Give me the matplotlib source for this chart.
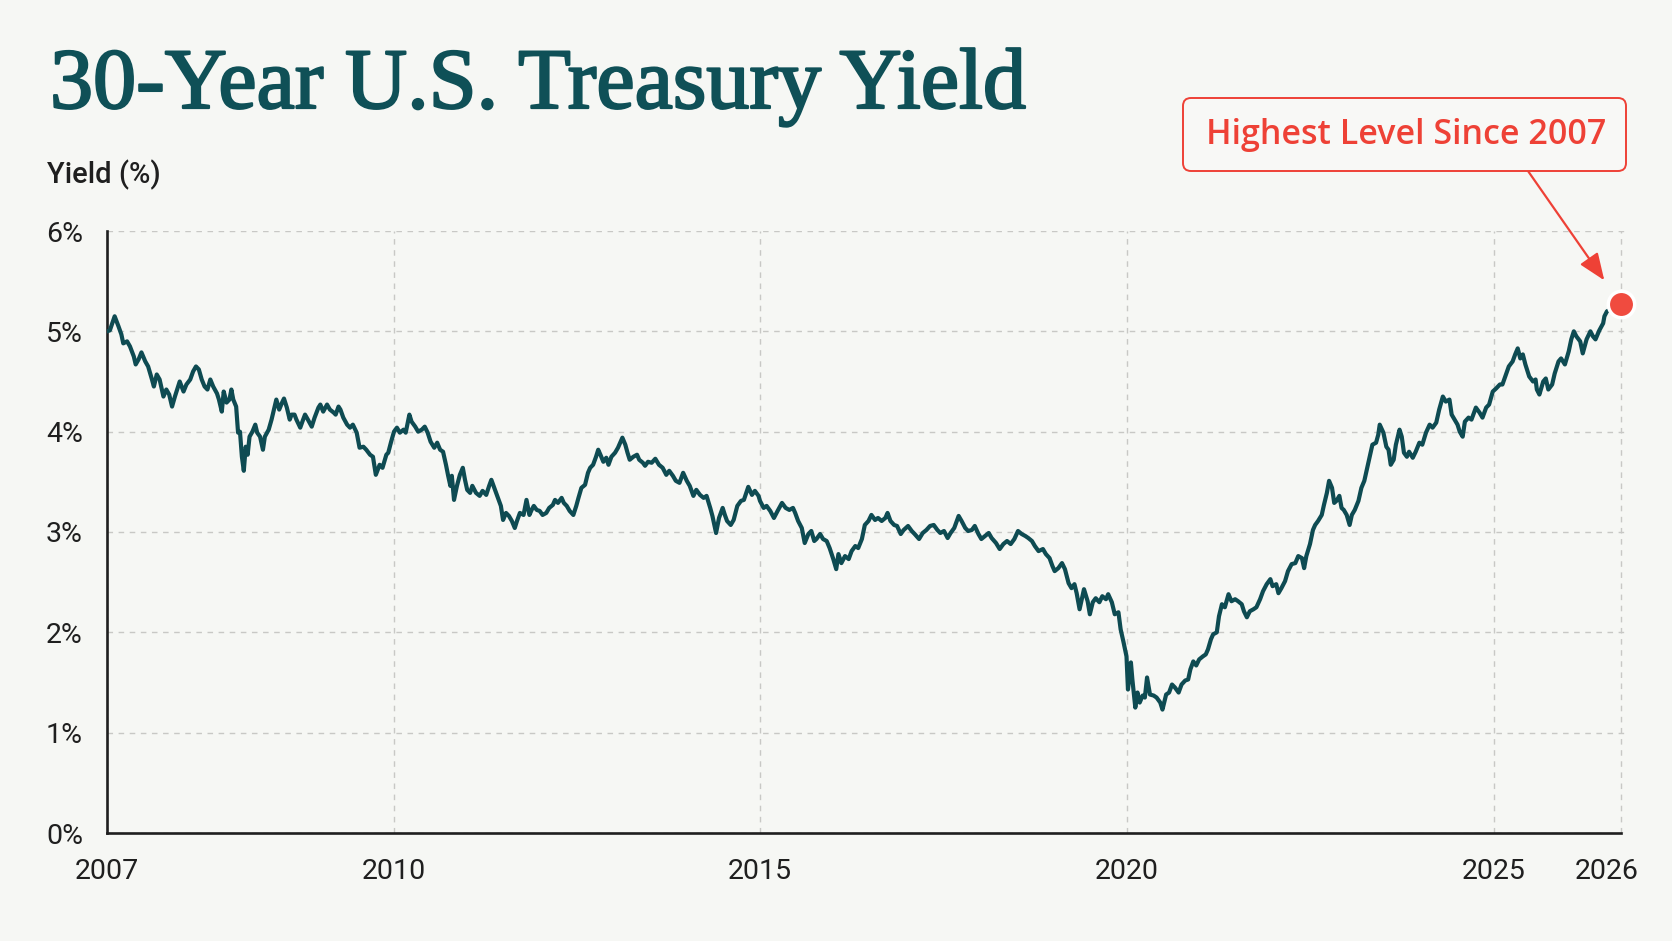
import numpy as np
import matplotlib
matplotlib.use('Agg')
import matplotlib.pyplot as plt
import matplotlib.patheffects as pe
from matplotlib import transforms
from matplotlib.patches import FancyBboxPatch
from matplotlib.ticker import NullLocator

# 30-year yield (decimal year, %)
dates = [
    2007.00, 2007.03, 2007.08, 2007.12, 2007.15, 2007.17, 2007.21, 2007.24, 2007.28, 2007.30,
    2007.33, 2007.36, 2007.40, 2007.43, 2007.47, 2007.49, 2007.52, 2007.55, 2007.59, 2007.62,
    2007.65, 2007.68, 2007.71, 2007.75, 2007.76, 2007.80, 2007.83, 2007.87, 2007.90, 2007.93,
    2007.96, 2007.99, 2008.02, 2008.05, 2008.08, 2008.11, 2008.15, 2008.17, 2008.20, 2008.22,
    2008.25, 2008.28, 2008.30, 2008.32, 2008.35, 2008.37, 2008.39, 2008.41, 2008.43, 2008.45,
    2008.47, 2008.49, 2008.52, 2008.55, 2008.57, 2008.60, 2008.63, 2008.65, 2008.69, 2008.72,
    2008.75, 2008.77, 2008.80, 2008.83, 2008.85, 2008.88, 2008.91, 2008.93, 2008.96, 2008.98,
    2009.02, 2009.05, 2009.07, 2009.10, 2009.14, 2009.17, 2009.21, 2009.23, 2009.26, 2009.30,
    2009.33, 2009.37, 2009.39, 2009.42, 2009.44, 2009.47, 2009.51, 2009.54, 2009.57, 2009.61,
    2009.64, 2009.68, 2009.71, 2009.75, 2009.78, 2009.81, 2009.85, 2009.88, 2009.92, 2009.94,
    2009.97, 2010.00, 2010.04, 2010.08, 2010.13, 2010.16, 2010.21, 2010.24, 2010.29, 2010.33,
    2010.38, 2010.42, 2010.46, 2010.50, 2010.55, 2010.59, 2010.63, 2010.67, 2010.71, 2010.74,
    2010.77, 2010.79, 2010.82, 2010.86, 2010.90, 2010.94, 2010.97, 2011.00, 2011.04, 2011.07,
    2011.12, 2011.17, 2011.21, 2011.26, 2011.30, 2011.33, 2011.37, 2011.41, 2011.46, 2011.49,
    2011.53, 2011.57, 2011.61, 2011.65, 2011.68, 2011.72, 2011.77, 2011.81, 2011.85, 2011.88,
    2011.91, 2011.95, 2011.99, 2012.03, 2012.08, 2012.12, 2012.17, 2012.20, 2012.24, 2012.29,
    2012.32, 2012.36, 2012.40, 2012.45, 2012.49, 2012.52, 2012.56, 2012.61, 2012.65, 2012.68,
    2012.72, 2012.76, 2012.79, 2012.82, 2012.86, 2012.90, 2012.93, 2012.97, 2013.02, 2013.06,
    2013.12, 2013.16, 2013.19, 2013.22, 2013.27, 2013.32, 2013.35, 2013.40, 2013.43, 2013.47,
    2013.52, 2013.57, 2013.62, 2013.67, 2013.72, 2013.76, 2013.81, 2013.85, 2013.90, 2013.95,
    2014.00, 2014.04, 2014.09, 2014.13, 2014.18, 2014.23, 2014.27, 2014.32, 2014.35, 2014.40,
    2014.44, 2014.49, 2014.52, 2014.55, 2014.60, 2014.64, 2014.69, 2014.74, 2014.78, 2014.84,
    2014.89, 2014.93, 2014.98, 2015.00, 2015.05, 2015.09, 2015.14, 2015.19, 2015.24, 2015.30,
    2015.35, 2015.40, 2015.45, 2015.48, 2015.52, 2015.57, 2015.61, 2015.66, 2015.70, 2015.74,
    2015.77, 2015.82, 2015.86, 2015.91, 2015.95, 2016.00, 2016.04, 2016.07, 2016.11, 2016.16,
    2016.21, 2016.25, 2016.30, 2016.34, 2016.39, 2016.43, 2016.48, 2016.52, 2016.57, 2016.61,
    2016.66, 2016.71, 2016.74, 2016.78, 2016.83, 2016.87, 2016.92, 2016.96, 2017.02, 2017.07,
    2017.11, 2017.17, 2017.22, 2017.27, 2017.32, 2017.37, 2017.42, 2017.46, 2017.51, 2017.56,
    2017.60, 2017.65, 2017.71, 2017.75, 2017.80, 2017.84, 2017.89, 2017.93, 2017.98, 2018.02,
    2018.07, 2018.12, 2018.16, 2018.22, 2018.27, 2018.32, 2018.37, 2018.42, 2018.47, 2018.52,
    2018.57, 2018.62, 2018.66, 2018.71, 2018.75, 2018.80, 2018.86, 2018.90, 2018.95, 2018.99,
    2019.02, 2019.07, 2019.12, 2019.16, 2019.21, 2019.25, 2019.29, 2019.32, 2019.36, 2019.39,
    2019.42, 2019.47, 2019.50, 2019.54, 2019.58, 2019.63, 2019.67, 2019.72, 2019.75, 2019.80,
    2019.84, 2019.89, 2019.92, 2019.96, 2020.00, 2020.02, 2020.06, 2020.08, 2020.12, 2020.15,
    2020.18, 2020.22, 2020.25, 2020.28, 2020.32, 2020.37, 2020.41, 2020.46, 2020.49, 2020.54,
    2020.58, 2020.62, 2020.66, 2020.71, 2020.75, 2020.80, 2020.84, 2020.87, 2020.91, 2020.95,
    2020.99, 2021.04, 2021.08, 2021.11, 2021.15, 2021.18, 2021.23, 2021.26, 2021.30, 2021.34,
    2021.39, 2021.43, 2021.48, 2021.52, 2021.57, 2021.60, 2021.64, 2021.68, 2021.73, 2021.77,
    2021.82, 2021.86, 2021.91, 2021.96, 2021.99, 2022.04, 2022.07, 2022.11, 2022.16, 2022.20,
    2022.25, 2022.30, 2022.34, 2022.39, 2022.42, 2022.45, 2022.50, 2022.54, 2022.57, 2022.61,
    2022.66, 2022.69, 2022.73, 2022.76, 2022.80, 2022.83, 2022.86, 2022.90, 2022.93, 2022.96,
    2023.00, 2023.04, 2023.07, 2023.11, 2023.16, 2023.20, 2023.24, 2023.28, 2023.32, 2023.35,
    2023.40, 2023.43, 2023.45, 2023.50, 2023.54, 2023.57, 2023.60, 2023.64, 2023.67, 2023.72,
    2023.75, 2023.78, 2023.82, 2023.85, 2023.90, 2023.94, 2023.99, 2024.03, 2024.08, 2024.13,
    2024.17, 2024.22, 2024.26, 2024.31, 2024.35, 2024.40, 2024.43, 2024.47, 2024.51, 2024.54,
    2024.58, 2024.61, 2024.66, 2024.70, 2024.76, 2024.81, 2024.85, 2024.90, 2024.94, 2024.99,
    2025.02, 2025.05, 2025.07, 2025.10, 2025.12, 2025.15, 2025.17, 2025.19, 2025.21, 2025.23,
    2025.25, 2025.28, 2025.31, 2025.33, 2025.34, 2025.36, 2025.39, 2025.41, 2025.43, 2025.46,
    2025.48, 2025.51, 2025.53, 2025.56, 2025.59, 2025.61, 2025.63, 2025.65, 2025.68, 2025.70,
    2025.73, 2025.76, 2025.78, 2025.80, 2025.83, 2025.86, 2025.87, 2025.89, 2026.00,
]
yields = [
    5.00, 5.01, 5.15, 5.05, 4.97, 4.88, 4.90, 4.85, 4.75, 4.67,
    4.72, 4.79, 4.70, 4.65, 4.52, 4.45, 4.57, 4.52, 4.35, 4.42,
    4.37, 4.25, 4.35, 4.47, 4.50, 4.40, 4.47, 4.52, 4.60, 4.65,
    4.62, 4.52, 4.45, 4.42, 4.52, 4.45, 4.38, 4.32, 4.20, 4.40,
    4.29, 4.32, 4.42, 4.32, 4.25, 3.99, 4.00, 3.75, 3.61, 3.85,
    3.77, 3.95, 4.00, 4.07, 3.99, 3.95, 3.82, 3.95, 4.02, 4.12,
    4.24, 4.32, 4.22, 4.29, 4.33, 4.24, 4.12, 4.17, 4.17, 4.12,
    4.04, 4.12, 4.17, 4.12, 4.05, 4.14, 4.24, 4.27, 4.20, 4.27,
    4.22, 4.19, 4.17, 4.25, 4.22, 4.14, 4.07, 4.04, 4.07, 3.99,
    3.84, 3.85, 3.82, 3.77, 3.75, 3.57, 3.67, 3.64, 3.77, 3.79,
    3.90, 4.00, 4.04, 3.99, 4.02, 3.99, 4.17, 4.10, 4.05, 4.00,
    4.02, 4.05, 3.99, 3.90, 3.84, 3.89, 3.82, 3.80, 3.67, 3.56,
    3.46, 3.56, 3.32, 3.46, 3.57, 3.64, 3.52, 3.42, 3.39, 3.46,
    3.39, 3.36, 3.41, 3.37, 3.46, 3.52, 3.44, 3.36, 3.26, 3.12,
    3.19, 3.16, 3.11, 3.04, 3.11, 3.19, 3.17, 3.32, 3.17, 3.22,
    3.26, 3.22, 3.21, 3.17, 3.19, 3.24, 3.27, 3.32, 3.29, 3.34,
    3.29, 3.26, 3.21, 3.17, 3.26, 3.34, 3.44, 3.47, 3.59, 3.64,
    3.67, 3.75, 3.82, 3.77, 3.70, 3.74, 3.67, 3.75, 3.79, 3.84,
    3.94, 3.87, 3.79, 3.72, 3.75, 3.77, 3.72, 3.69, 3.66, 3.70,
    3.69, 3.73, 3.67, 3.64, 3.57, 3.61, 3.56, 3.51, 3.49, 3.59,
    3.51, 3.46, 3.36, 3.42, 3.37, 3.34, 3.36, 3.24, 3.16, 2.99,
    3.14, 3.24, 3.17, 3.11, 3.07, 3.12, 3.26, 3.31, 3.32, 3.45,
    3.37, 3.41, 3.36, 3.31, 3.24, 3.26, 3.21, 3.14, 3.21, 3.29,
    3.24, 3.22, 3.24, 3.19, 3.11, 3.04, 2.89, 2.98, 3.01, 2.91,
    2.93, 2.98, 2.93, 2.91, 2.84, 2.73, 2.63, 2.78, 2.69, 2.76,
    2.73, 2.81, 2.86, 2.84, 2.93, 3.07, 3.11, 3.17, 3.12, 3.14,
    3.11, 3.14, 3.19, 3.11, 3.07, 3.06, 2.98, 3.02, 3.06, 3.01,
    2.98, 2.93, 2.99, 3.02, 3.06, 3.07, 3.02, 2.99, 3.01, 2.94,
    2.99, 3.04, 3.16, 3.11, 3.04, 3.01, 3.02, 3.06, 2.98, 2.93,
    2.96, 2.99, 2.94, 2.89, 2.83, 2.88, 2.91, 2.88, 2.93, 3.01,
    2.98, 2.96, 2.94, 2.91, 2.86, 2.81, 2.83, 2.78, 2.74, 2.66,
    2.61, 2.64, 2.69, 2.63, 2.49, 2.44, 2.48, 2.39, 2.23, 2.33,
    2.43, 2.31, 2.18, 2.30, 2.34, 2.30, 2.36, 2.33, 2.38, 2.30,
    2.18, 2.20, 2.03, 1.90, 1.76, 1.43, 1.70, 1.53, 1.25, 1.40,
    1.30, 1.37, 1.35, 1.55, 1.38, 1.37, 1.35, 1.30, 1.23, 1.38,
    1.40, 1.48, 1.45, 1.40, 1.48, 1.52, 1.53, 1.63, 1.71, 1.67,
    1.73, 1.76, 1.78, 1.83, 1.93, 1.98, 2.00, 2.16, 2.28, 2.25,
    2.38, 2.31, 2.33, 2.31, 2.28, 2.21, 2.15, 2.21, 2.23, 2.25,
    2.33, 2.41, 2.48, 2.53, 2.46, 2.48, 2.39, 2.44, 2.51, 2.61,
    2.68, 2.69, 2.76, 2.74, 2.64, 2.76, 2.88, 3.02, 3.07, 3.11,
    3.17, 3.27, 3.39, 3.51, 3.44, 3.29, 3.31, 3.36, 3.24, 3.22,
    3.17, 3.07, 3.17, 3.22, 3.31, 3.44, 3.51, 3.64, 3.77, 3.87,
    3.89, 3.97, 4.07, 3.99, 3.85, 3.82, 3.67, 3.72, 3.87, 4.02,
    3.95, 3.79, 3.75, 3.80, 3.74, 3.80, 3.89, 3.87, 3.99, 4.07,
    4.04, 4.09, 4.22, 4.35, 4.30, 4.32, 4.17, 4.12, 4.07, 4.00,
    3.95, 4.10, 4.14, 4.12, 4.24, 4.19, 4.14, 4.24, 4.27, 4.40,
    4.43, 4.47, 4.47, 4.58, 4.65, 4.70, 4.77, 4.83, 4.73, 4.77,
    4.67, 4.55, 4.50, 4.52, 4.42, 4.37, 4.50, 4.53, 4.42, 4.47,
    4.58, 4.70, 4.73, 4.67, 4.80, 4.92, 5.00, 4.95, 4.90, 4.78,
    4.92, 5.00, 4.95, 4.92, 5.01, 5.08, 5.15, 5.20, 5.27,
]

tick_years = [2007, 2010, 2015, 2020, 2025, 2026]
tick_labels = ['2007', '2010', '2015', '2020', '2025', '2026']
y_ticks = [0, 1, 2, 3, 4, 5, 6]

W, H = 1672, 941
BG = '#f6f7f4'
TEAL = '#0e4b52'
TITLE_C = '#0f5057'
RED = '#ee4136'
DOT = '#f04b3f'
INK = '#1f1f1f'

# the original time axis is not evenly spaced: knots (year -> pixel)
knot_years = np.array([2007, 2010, 2015, 2020, 2025, 2026], float)
knot_px = np.array([107, 394, 760, 1126.5, 1493.5, 1621], float)


def fwd(x):
    x = np.asarray(x, float)
    out = np.interp(x, knot_years, knot_px)
    out = np.where(x < knot_years[0], knot_px[0] + (x - knot_years[0]) * 95.67, out)
    out = np.where(x > knot_years[-1], knot_px[-1] + (x - knot_years[-1]) * 127.5, out)
    return out


def inv(p):
    p = np.asarray(p, float)
    out = np.interp(p, knot_px, knot_years)
    out = np.where(p < knot_px[0], knot_years[0] + (p - knot_px[0]) / 95.67, out)
    out = np.where(p > knot_px[-1], knot_years[-1] + (p - knot_px[-1]) / 127.5, out)
    return out


fig = plt.figure(figsize=(W / 100, H / 100), dpi=100, facecolor=BG)
ax = fig.add_axes([107 / W, 1 - 833 / H, (1628 - 107) / W, (833 - 231) / H])
ax.set_facecolor(BG)
ax.set_xscale('function', functions=(fwd, inv))
ax.set_xlim(2007, float(inv(1628)))
ax.set_ylim(0, 6)

ax.plot(dates, yields, color=TEAL, lw=3.0, solid_joinstyle='round', zorder=3)
ax.plot(dates[-1], yields[-1], 'o', ms=19, mfc=DOT, mec='white', mew=2.5,
        zorder=5, clip_on=False)

# axes, grid, ticks
ax.set_xticks(tick_years)
ax.set_xticklabels(tick_labels)
ax.xaxis.set_minor_locator(NullLocator())
ax.set_yticks(y_ticks)
ax.set_yticklabels([f'{v}%' for v in y_ticks])
ax.grid(True, color='#c8c8c5', lw=1.0, ls=(0, (4, 4)), zorder=0)
for s in ['top', 'right']:
    ax.spines[s].set_visible(False)
for s in ['left', 'bottom']:
    ax.spines[s].set_color(INK)
    ax.spines[s].set_linewidth(1.9)
ax.spines['bottom'].set_bounds(2007, 2026)
ax.tick_params(length=0, labelcolor=INK)
ax.tick_params(axis='x', pad=18)
ax.tick_params(axis='y', pad=44)
tick_font = dict(family=['Liberation Sans Narrow', 'Roboto', 'DejaVu Sans'], size=20.5)
for lab in ax.get_xticklabels():
    lab.set(**tick_font)
for lab in ax.get_yticklabels():
    lab.set(**tick_font)
    lab.set_ha('left')
last = ax.get_xticklabels()[-1]
last.set_transform(last.get_transform()
                   + transforms.ScaledTranslation(-0.14, 0, fig.dpi_scale_trans))

# title and axis label
fig.text(50 / W, 1 - 108 / H, '30-Year U.S. Treasury Yield', family='Liberation Serif',
         size=62, color=TITLE_C, va='baseline',
         path_effects=[pe.withStroke(linewidth=1.6, foreground=TITLE_C)])
fig.text(47 / W, 1 - 175 / H, 'Yield (%)', family=['Roboto', 'DejaVu Sans'],
         weight='medium', size=21, color=INK, va='center')

# callout
box = FancyBboxPatch((11.83, (H - 171) / 100), 4.43, 0.73,
                     boxstyle='round,pad=0,rounding_size=0.08',
                     transform=fig.dpi_scale_trans, fc='#f8f8f6', ec=RED, lw=1.4)
fig.add_artist(box)
fig.text(1406.5 / W, 1 - 135 / H, 'Highest Level Since 2007', ha='center', va='center',
         family=['Open Sans', 'DejaVu Sans'], weight='semibold', size=24.5, color=RED)
ax.annotate('', xy=(dates[-1], yields[-1]), xycoords='data',
            xytext=(15.28, (H - 171) / 100), textcoords=fig.dpi_scale_trans,
            arrowprops=dict(arrowstyle='-|>,head_length=0.75,head_width=0.3',
                            mutation_scale=22, color=RED, lw=1.6,
                            shrinkA=0, shrinkB=21),
            annotation_clip=False)

fig.savefig('out.png', dpi=100, facecolor=BG)
